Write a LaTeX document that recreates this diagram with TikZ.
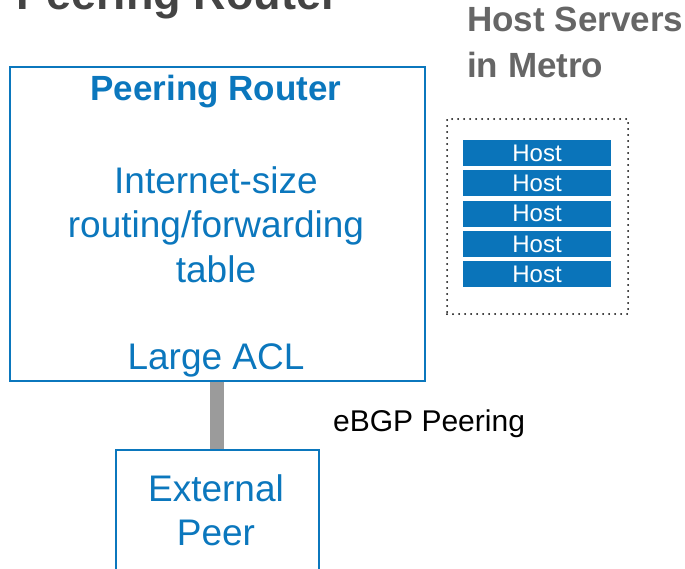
\documentclass[tikz,border=0pt]{standalone}
\usepackage{fontspec}
\setmainfont{Liberation Sans}
\definecolor{gblue}{HTML}{0B77BD}
\definecolor{hostblue}{HTML}{0A74BA}
\definecolor{titlegray}{HTML}{444444}
\definecolor{subgray}{HTML}{666666}
\definecolor{linkgray}{HTML}{9B9B9B}
\tikzset{
  box/.style={draw=gblue, line width=1.5pt, inner sep=0pt, anchor=north west},
  bluetxt/.style={text=gblue, font=\fontsize{37}{44}\selectfont, anchor=base, inner sep=0pt},
  hostbar/.style={fill=hostblue, minimum width=148pt, minimum height=26pt, inner sep=0pt,
                  text=white, font=\fontsize{24}{28}\selectfont},
  heading/.style={font=\bfseries\fontsize{35}{40}\selectfont, anchor=base west, inner sep=0pt},
}
\begin{document}
\begin{tikzpicture}[x=1pt, y=-1pt]
\useasboundingbox (0,0) rectangle (685,568);
\clip (0,0) rectangle (685,568);

% page title, mostly above the visible area
\node[heading, text=titlegray, font=\bfseries\fontsize{45}{50}\selectfont] (title) at (16,9) {Peering Router};

% peering router box and its contents
\node[box, minimum width=415pt, minimum height=314pt] (router) at (9,66) {};
\node[bluetxt, font=\bfseries\fontsize{35}{42}\selectfont] (rname) at (216,100) {Peering Router};
\node[bluetxt] (t1) at (216,193) {Internet-size};
\node[bluetxt] (t2) at (216,237) {routing/forwarding};
\node[bluetxt] (t3) at (216,282) {table};
\node[bluetxt] (acl) at (216,369) {Large ACL};

% external peer box (runs past the bottom edge)
\node[box, minimum width=203pt, minimum height=160pt] (peer) at (115,449) {};
\node[bluetxt] (p1) at (216,501) {External};
\node[bluetxt] (p2) at (216,545) {Peer};

% peering link
\draw[linkgray, line width=14pt] (router.south) -- (peer.north);
\node[anchor=base west, inner sep=0pt, font=\fontsize{30}{36}\selectfont] (ebgp) at (333,431) {eBGP Peering};

% host servers group
\node[heading, text=subgray] (hs1) at (467,31) {Host Servers};
\node[heading, text=subgray] (hs2) at (467,77) {in Metro};
\node[draw=black, line width=2pt, line cap=round, dash pattern=on 0pt off 6pt,
      minimum width=181pt, minimum height=195pt,
      inner sep=0pt, anchor=north west] (metro) at (446,118) {};
\foreach \i/\yy in {1/153, 2/183, 3/213.5, 4/244, 5/274}
  \node[hostbar] (host\i) at (537,\yy) {Host};
\end{tikzpicture}
\end{document}
